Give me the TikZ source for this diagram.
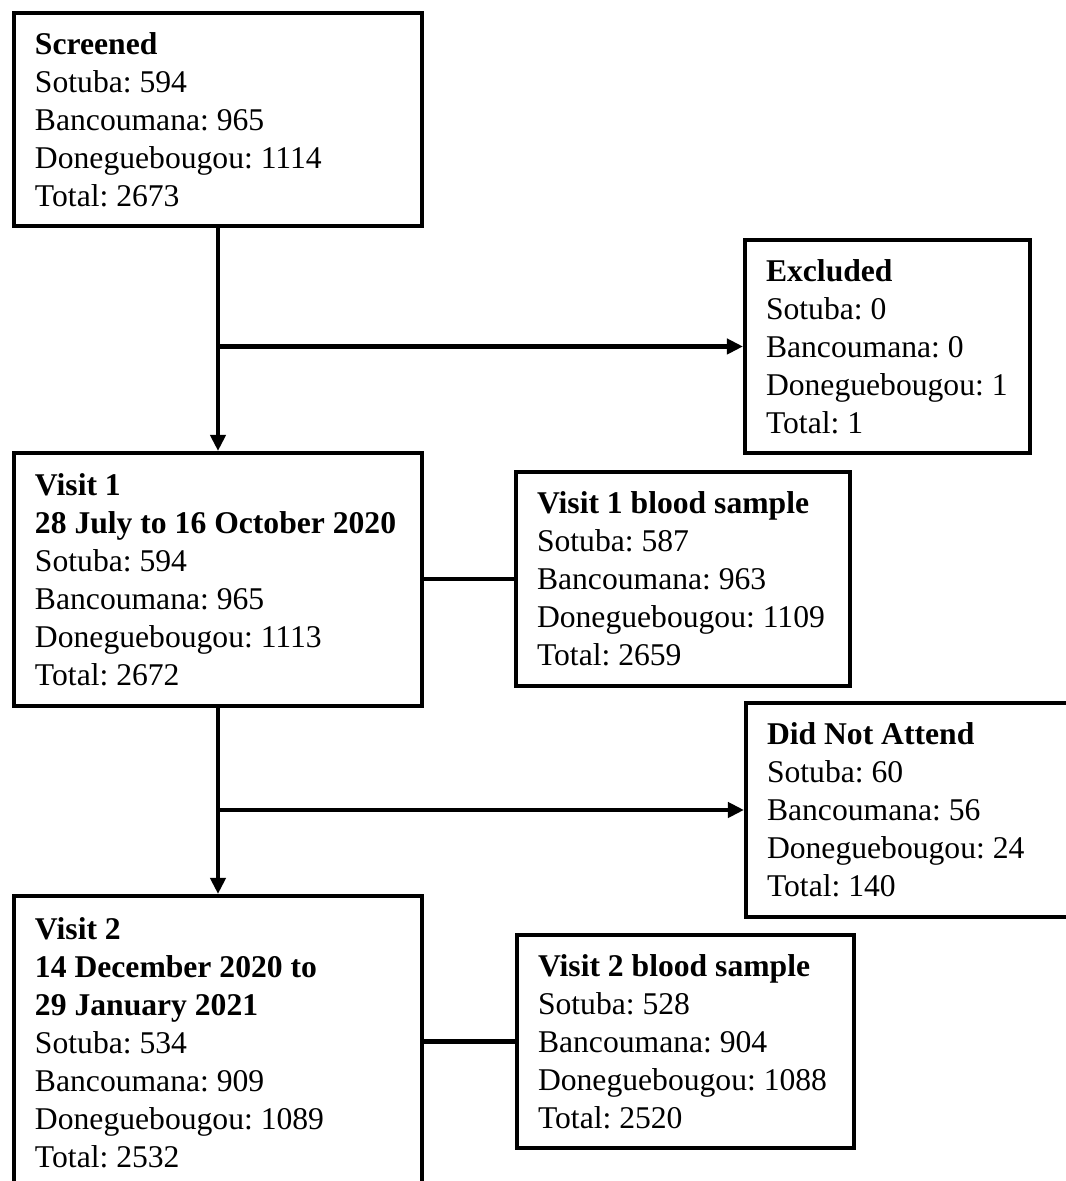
\documentclass[tikz,border=0pt]{standalone}
\usepackage{fontspec}
\setmainfont{Liberation Serif}
\usetikzlibrary{arrows.meta}

\begin{document}
\begin{tikzpicture}[x=1cm,y=1cm,font=\fontsize{9}{10.8}\selectfont\frenchspacing,
 box/.style={draw=black,fill=white,line width=1.15pt,align=flush left,inner xsep=.21cm,inner ysep=0pt},
 flow/.style={-{Triangle[length=.16cm,width=.15cm]},line width=1.15pt},
 link/.style={line width=1.15pt}]
\path[use as bounding box] (0,0) rectangle (10.66,11.81);
% main column: screening and the two visits
\node[box,text width=3.66cm,minimum height=2.13cm] (scr) at (2.18,10.615) {\textbf{Screened}\\Sotuba: 594\\Bancoumana: 965\\Doneguebougou: 1114\\Total: 2673};
\node[box,text width=3.66cm,minimum height=2.53cm] (visA) at (2.18,6.015) {\textbf{Visit 1}\\\textbf{28 July to 16 October 2020}\\Sotuba: 594\\Bancoumana: 965\\Doneguebougou: 1113\\Total: 2672};
\node[box,text width=3.66cm,minimum height=2.94cm] (visB) at (2.18,1.38) {\textbf{Visit 2}\\\textbf{14 December 2020 to}\\\textbf{29 January 2021}\\Sotuba: 534\\Bancoumana: 909\\Doneguebougou: 1089\\Total: 2532};
% side boxes: losses and blood samples
\node[box,text width=2.43cm,minimum height=2.13cm] (exc) at (8.875,8.345) {\textbf{Excluded}\\Sotuba: 0\\Bancoumana: 0\\Doneguebougou: 1\\Total: 1};
\node[box,text width=2.92cm,minimum height=2.14cm] (bloodA) at (6.83,6.02) {\textbf{Visit 1 blood sample}\\Sotuba: 587\\Bancoumana: 963\\Doneguebougou: 1109\\Total: 2659};
\node[box,text width=2.98cm,minimum height=2.14cm] (dna) at (9.16,3.71) {\textbf{Did Not Attend}\\Sotuba: 60\\Bancoumana: 56\\Doneguebougou: 24\\Total: 140};
\node[box,text width=2.95cm,minimum height=2.13cm] (bloodB) at (6.855,1.395) {\textbf{Visit 2 blood sample}\\Sotuba: 528\\Bancoumana: 904\\Doneguebougou: 1088\\Total: 2520};
\draw[flow] (scr.south)--(visA.north);
\draw[flow] (scr.south |- exc.west)--(exc.west);
\draw[link] (visA.east |- bloodA.west)--(bloodA.west);
\draw[flow] (visA.south)--(visB.north);
\draw[flow] (visA.south |- dna.west)--(dna.west);
\draw[link] (visB.east |- bloodB.west)--(bloodB.west);
\end{tikzpicture}
\end{document}
